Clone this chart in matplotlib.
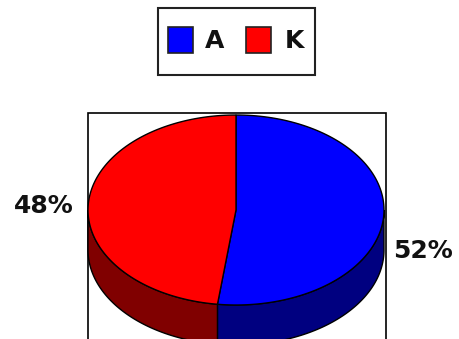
"""3D-looking pie chart of A vs K shares"""

import matplotlib
matplotlib.use("Agg")
import matplotlib.pyplot as plt
import numpy as np
from matplotlib.patches import Polygon, Rectangle

labels = ['A', 'K']
shares = [52, 48]
top_colors = ['#0000ff', '#ff0000']
side_colors = ['#000080', '#800000']
pct_labels = ['52%', '48%']

W, H = 459, 339
fig = plt.figure(figsize=(W / 100, H / 100), dpi=100)
ax = fig.add_axes([0, 0, 1, 1])
ax.set_xlim(0, W)
ax.set_ylim(H, 0)
ax.axis('off')

# pie geometry (pixel space)
cx, cy, a, b, depth = 236, 210, 148, 95, 40


def pt(theta):
    # theta in degrees, clockwise from 12 o'clock
    t = np.radians(theta)
    return cx + a * np.sin(t), cy - b * np.cos(t)


frame = Rectangle((88, 113), 298, 240, facecolor='white',
                  edgecolor='black', lw=1.2, zorder=1)
ax.add_patch(frame)

total = sum(shares)
bounds = np.concatenate([[0], np.cumsum(shares) / total * 360])

# side walls, only the front half (90..270 deg) is visible
for i in range(len(shares)):
    s, e = max(bounds[i], 90), min(bounds[i + 1], 270)
    if e <= s:
        continue
    th = np.linspace(s, e, 80)
    xs, ys = pt(th)
    verts = list(zip(xs, ys)) + list(zip(xs[::-1], ys[::-1] + depth))
    ax.add_patch(Polygon(verts, closed=True, facecolor=side_colors[i],
                         edgecolor='black', lw=1, zorder=2,
                         clip_path=frame))

# top faces
for i in range(len(shares)):
    th = np.linspace(bounds[i], bounds[i + 1], 120)
    xs, ys = pt(th)
    verts = [(cx, cy)] + list(zip(xs, ys))
    ax.add_patch(Polygon(verts, closed=True, facecolor=top_colors[i],
                         edgecolor='black', lw=1, zorder=3))

# percentage labels
ax.text(423, 251, pct_labels[0], ha='center', va='center',
        fontsize=18, fontweight='bold', color='#111111', zorder=5)
ax.text(44, 206, pct_labels[1], ha='center', va='center',
        fontsize=18, fontweight='bold', color='#111111', zorder=5)

# legend
ax.add_patch(Rectangle((158, 8), 157, 67, facecolor='white',
                       edgecolor='#222222', lw=1.5, zorder=4))
sq_x = [168, 246]
txt_x = [215, 294]
for i in range(len(labels)):
    ax.add_patch(Rectangle((sq_x[i], 27), 25, 26, facecolor=top_colors[i],
                           edgecolor='#222222', lw=1.2, zorder=5))
    ax.text(txt_x[i], 41, labels[i], ha='center', va='center',
            fontsize=18, fontweight='bold', color='#111111', zorder=5)

fig.savefig('out.png', dpi=100)
